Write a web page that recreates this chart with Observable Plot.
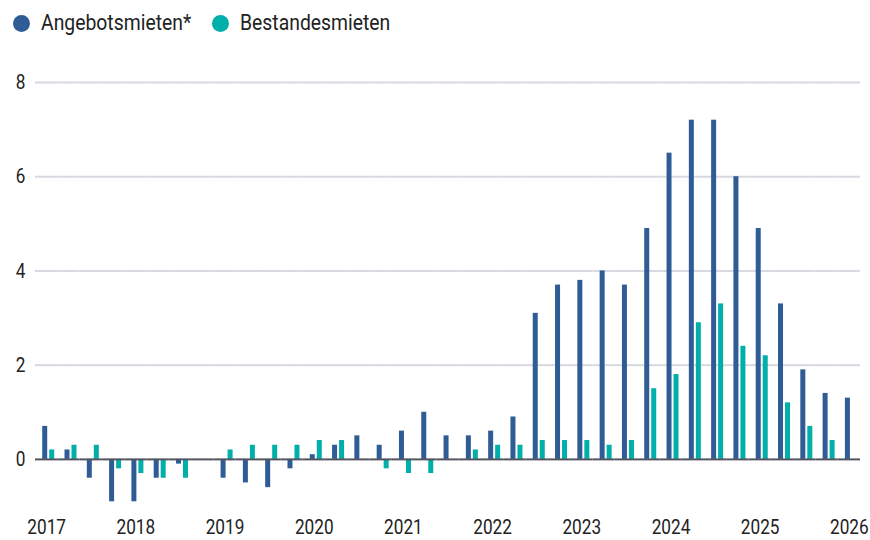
<!DOCTYPE html>
<html>
<head>
<meta charset="utf-8">
<script src="https://cdn.jsdelivr.net/npm/d3@7"></script>
<script src="https://cdn.jsdelivr.net/npm/@observablehq/plot@0.6"></script>
<style>
  html, body { margin: 0; padding: 0; background: #fff; }
  body { width: 870px; height: 540px; overflow: hidden; font-family: "Roboto", sans-serif; color: #222; }
  #legend { position: relative; height: 45px; font-size: 22px; }
  .sw { position: absolute; top: 15px; width: 17px; height: 17px; border-radius: 50%; }
  .lt { position: absolute; top: 10px; white-space: nowrap; transform: scaleX(0.88); transform-origin: 0 50%; line-height: 26px; }
</style>
</head>
<body>
<div id="legend"></div>
<div id="chart"></div>
<script>
const quarters = [
  "2017 Q1","2017 Q2","2017 Q3","2017 Q4",
  "2018 Q1","2018 Q2","2018 Q3","2018 Q4",
  "2019 Q1","2019 Q2","2019 Q3","2019 Q4",
  "2020 Q1","2020 Q2","2020 Q3","2020 Q4",
  "2021 Q1","2021 Q2","2021 Q3","2021 Q4",
  "2022 Q1","2022 Q2","2022 Q3","2022 Q4",
  "2023 Q1","2023 Q2","2023 Q3","2023 Q4",
  "2024 Q1","2024 Q2","2024 Q3","2024 Q4",
  "2025 Q1","2025 Q2","2025 Q3","2025 Q4",
  "2026 Q1"
];
const angebotsmieten = [
  0.7, 0.2, -0.4, -0.9,
  -0.9, -0.4, -0.1, 0,
  -0.4, -0.5, -0.6, -0.2,
  0.1, 0.3, 0.5, 0.3,
  0.6, 1.0, 0.5, 0.5,
  0.6, 0.9, 3.1, 3.7,
  3.8, 4.0, 3.7, 4.9,
  6.5, 7.2, 7.2, 6.0,
  4.9, 3.3, 1.9, 1.4,
  1.3
];
const bestandesmieten = [
  0.2, 0.3, 0.3, -0.2,
  -0.3, -0.4, -0.4, 0,
  0.2, 0.3, 0.3, 0.3,
  0.4, 0.4, 0, -0.2,
  -0.3, -0.3, 0, 0.2,
  0.3, 0.3, 0.4, 0.4,
  0.4, 0.3, 0.4, 1.5,
  1.8, 2.9, 3.3, 2.4,
  2.2, 1.2, 0.7, 0.4,
  null
];
const seriesNames = ["Angebotsmieten*", "Bestandesmieten"];
const seriesColors = ["#2f5c94", "#00aeaa"];
const yTicks = [0, 2, 4, 6, 8];
const yearTicks = ["2017 Q1","2018 Q1","2019 Q1","2020 Q1","2021 Q1","2022 Q1","2023 Q1","2024 Q1","2025 Q1","2026 Q1"];

const rows = [];
quarters.forEach((q, i) => {
  if (angebotsmieten[i] != null) rows.push({q, s: seriesNames[0], v: angebotsmieten[i]});
  if (bestandesmieten[i] != null) rows.push({q, s: seriesNames[1], v: bestandesmieten[i]});
});

// legend
const legend = document.getElementById("legend");
const legendLeft = [13, 212];
seriesNames.forEach((n, i) => {
  const sw = document.createElement("span");
  sw.className = "sw";
  sw.style.left = legendLeft[i] + "px";
  sw.style.background = seriesColors[i];
  const t = document.createElement("span");
  t.className = "lt";
  t.style.left = (legendLeft[i] + 28) + "px";
  t.textContent = n;
  legend.appendChild(sw); legend.appendChild(t);
});

const chart = Plot.plot({
  width: 870,
  height: 495,
  marginLeft: 35,
  marginRight: 10,
  marginTop: 37,
  marginBottom: 34,
  style: {fontFamily: '"Roboto", sans-serif', fontSize: "21px", color: "#222", background: "#fff"},
  fx: {domain: quarters, padding: 0, round: false, axis: "bottom", ticks: yearTicks, tickFormat: d => d.slice(0, 4), tickSize: 0, tickPadding: 13, label: null},
  x: {domain: seriesNames, axis: null, paddingInner: 0.286, paddingOuter: 0.736, align: 0.7, round: false},
  y: {domain: [-1, 8], axis: "left", ticks: yTicks, tickSize: 0, tickPadding: 10, label: null},
  color: {domain: seriesNames, range: seriesColors},
  marks: [
    Plot.gridY(yTicks.filter(d => d !== 0), {stroke: "#d6d9e0", strokeOpacity: 1, strokeWidth: 2}),
    Plot.barY(rows, {fx: "q", x: "s", y: "v", fill: "s"}),
    Plot.ruleY([0], {stroke: "#52545f", strokeWidth: 2})
  ]
});
document.getElementById("chart").appendChild(chart);
// condense tick label glyphs horizontally around their anchor (the reference uses a condensed face)
chart.querySelectorAll("text").forEach(t => {
  const b = t.getBBox();
  const anchor = getComputedStyle(t).textAnchor;
  const ax = anchor === "end" ? b.x + b.width : anchor === "middle" ? b.x + b.width / 2 : b.x;
  const prev = t.getAttribute("transform") || "";
  t.setAttribute("transform", `${prev} translate(${ax},0) scale(0.82,1) translate(${-ax},0)`.trim());
});
</script>
</body>
</html>
